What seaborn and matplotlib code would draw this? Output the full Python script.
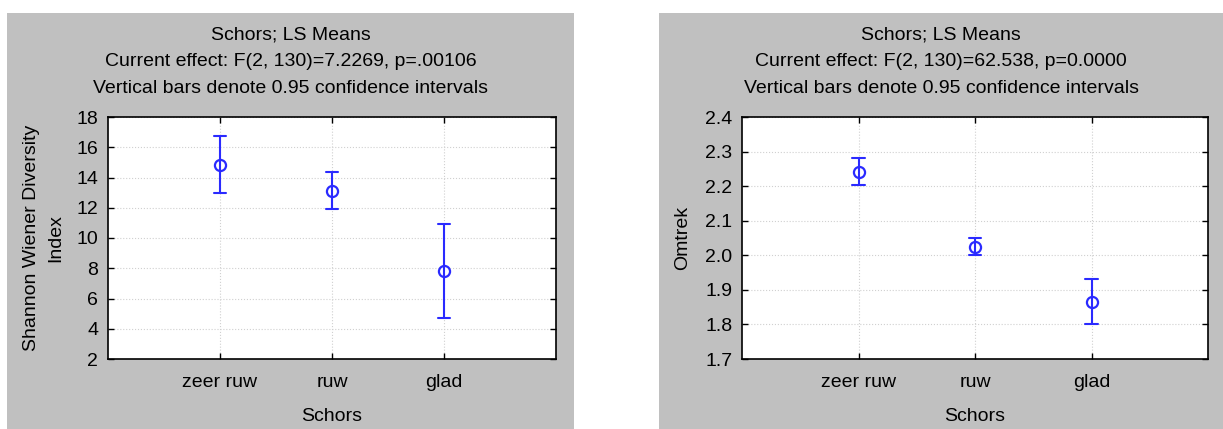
import numpy as np
import pandas as pd
import matplotlib
matplotlib.use("Agg")
import matplotlib.pyplot as plt
import seaborn as sns
from matplotlib.patches import Rectangle

# LS means with 0.95 confidence limits
schors = ["zeer ruw", "ruw", "glad"]

shannon_mean = [14.85, 13.10, 7.80]
shannon_lo = [13.00, 11.90, 4.70]
shannon_hi = [16.75, 14.35, 10.95]

omtrek_mean = [2.242, 2.025, 1.866]
omtrek_lo = [2.203, 2.000, 1.801]
omtrek_hi = [2.281, 2.051, 1.931]

titles = [
    "Schors; LS Means\nCurrent effect: F(2, 130)=7.2269, p=.00106\n"
    "Vertical bars denote 0.95 confidence intervals",
    "Schors; LS Means\nCurrent effect: F(2, 130)=62.538, p=0.0000\n"
    "Vertical bars denote 0.95 confidence intervals",
]
ylabels = ["Shannon Wiener Diversity\nIndex", "Omtrek"]
yticks = [np.arange(2, 18.1, 2), np.round(np.arange(1.7, 2.41, 0.1), 1)]
yfmt = ["{:.0f}", "{:.1f}"]

BLUE = "#2a2aff"
GRAY = "#c0c0c0"
W, H = 1223, 429


def long_table(lo, mean, hi):
    # three rows per group: lower limit, mean, upper limit
    rows = []
    for c, a, m, b in zip(schors, lo, mean, hi):
        rows += [(c, a), (c, m), (c, b)]
    return pd.DataFrame(rows, columns=["Schors", "value"])


def main():
    sns.set_style("white")
    plt.rcParams["font.family"] = ["Liberation Sans", "DejaVu Sans"]
    plt.rcParams["font.size"] = 14
    plt.rcParams["text.color"] = "black"
    plt.rcParams["axes.labelcolor"] = "black"
    plt.rcParams["xtick.color"] = "black"
    plt.rcParams["ytick.color"] = "black"

    fig = plt.figure(figsize=(W / 100, H / 100), dpi=100)

    panels = [(7, 574), (659, 1223)]
    axes_px = [(108, 556), (742, 1208)]
    data = [long_table(shannon_lo, shannon_mean, shannon_hi),
            long_table(omtrek_lo, omtrek_mean, omtrek_hi)]

    for i in range(2):
        p0, p1 = panels[i]
        fig.patches.append(Rectangle((p0 / W, 0), (p1 - p0) / W, (H - 13) / H,
                                     transform=fig.transFigure,
                                     facecolor=GRAY, edgecolor="none", zorder=-5))
        a0, a1 = axes_px[i]
        ax = fig.add_axes([a0 / W, (H - 359) / H, (a1 - a0) / W, (359 - 117) / H])
        ax.set_facecolor("white")

        sns.pointplot(data=data[i], x="Schors", y="value", ax=ax,
                      estimator="median", errorbar=lambda v: (v.min(), v.max()),
                      color=BLUE, linestyle="none", marker="o", capsize=0.11,
                      err_kws={"linewidth": 1.5},
                      markerfacecolor="white", markeredgecolor=BLUE,
                      markersize=8, markeredgewidth=1.6)

        ax.set_xlim(-1, 3)
        ax.set_ylim(yticks[i][0], yticks[i][-1])
        ax.set_yticks(yticks[i])
        ax.set_yticklabels([yfmt[i].format(t) for t in yticks[i]])
        ax.grid(True, linestyle=":", color="#d0d0d0", linewidth=0.8)
        ax.set_axisbelow(True)
        ax.tick_params(direction="in", length=4, width=1, top=True, right=True,
                       bottom=True, left=True, pad=7)
        ax.tick_params(axis="x", pad=11)
        for s in ax.spines.values():
            s.set_color("black")
            s.set_linewidth(1.2)
            s.set_visible(True)

        ax.set_xlabel("Schors", labelpad=12)
        if i == 0:
            ax.set_ylabel(ylabels[i], labelpad=9, linespacing=1.5)
        else:
            ax.set_ylabel(ylabels[i], labelpad=10)

        fig.text((p0 + p1) / 2 / W, (H - 27) / H, titles[i], ha="center",
                 va="top", linespacing=1.72)

    fig.savefig("out.png", dpi=100)


if __name__ == "__main__":
    main()
